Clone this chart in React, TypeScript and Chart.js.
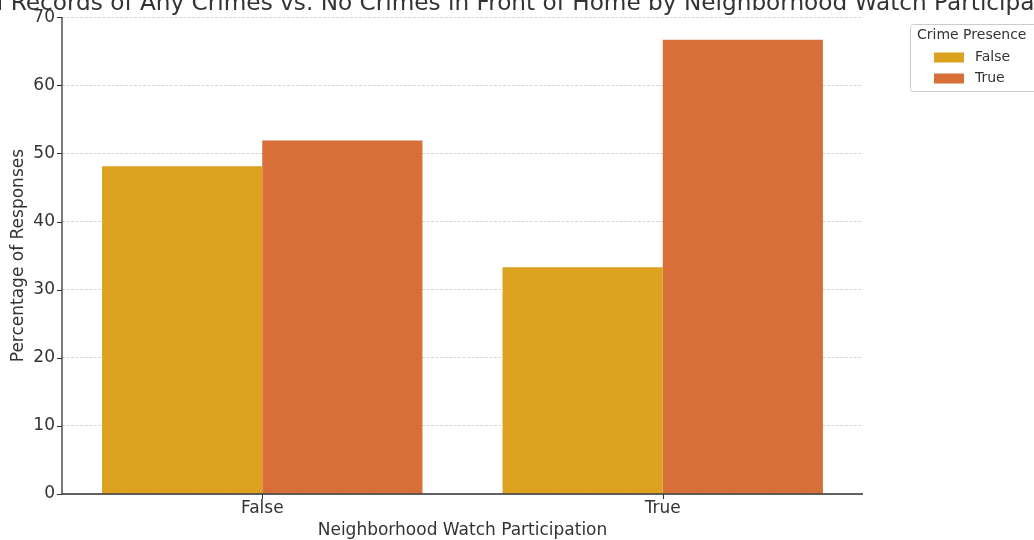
import React, { useEffect, useRef } from "react";
import { Chart, registerables } from "chart.js";

Chart.register(...registerables);

const chartTitle =
  "Prior Criminal Records of Any Crimes vs. No Crimes in Front of Home by Neighborhood Watch Participation";
const categories = ["False", "True"];
const seriesNames = ["False", "True"];
const falseValues = [48.1, 33.3];
const trueValues = [51.9, 66.7];
const yTicks = [0, 10, 20, 30, 40, 50, 60, 70];
const xAxisTitle = "Neighborhood Watch Participation";
const yAxisTitle = "Percentage of Responses";
const legendTitle = "Crime Presence";
const colors = ["#DBA11F", "#D96F38"];

const FONT = "'DejaVu Sans', sans-serif";
const TEXT = "#333333";

const decorPlugin = {
  id: "decor",
  afterDraw(chart: any) {
    const { ctx, chartArea } = chart;
    const { left, right, top, bottom } = chartArea;
    const yScale = chart.scales.y;
    const xScale = chart.scales.x;
    ctx.save();
    // spines
    ctx.strokeStyle = "#333333";
    ctx.lineWidth = 1.3;
    ctx.beginPath();
    ctx.moveTo(left, top);
    ctx.lineTo(left, bottom);
    ctx.lineTo(right, bottom);
    ctx.stroke();
    // tick marks
    ctx.lineWidth = 1;
    yTicks.forEach((v) => {
      const y = Math.round(yScale.getPixelForValue(v)) + 0.5;
      ctx.beginPath();
      ctx.moveTo(left - 5, y);
      ctx.lineTo(left, y);
      ctx.stroke();
    });
    categories.forEach((_, i) => {
      const x = Math.round(xScale.getPixelForValue(i)) + 0.5;
      ctx.beginPath();
      ctx.moveTo(x, bottom);
      ctx.lineTo(x, bottom + 5);
      ctx.stroke();
    });
    // title
    const cx = (left + right) / 2;
    ctx.fillStyle = TEXT;
    ctx.font = `23.2px ${FONT}`;
    ctx.textAlign = "center";
    ctx.textBaseline = "alphabetic";
    ctx.fillText(chartTitle, cx, 10);
    // axis titles
    ctx.font = `17px ${FONT}`;
    ctx.textBaseline = "middle";
    ctx.fillText(xAxisTitle, cx, 530.5);
    ctx.save();
    ctx.translate(18.5, (top + bottom) / 2);
    ctx.rotate(-Math.PI / 2);
    ctx.fillText(yAxisTitle, 0, 0);
    ctx.restore();
    // legend
    const lx = 910.5, ly = 24.5, lw = 140, lh = 67;
    ctx.fillStyle = "rgba(255,255,255,0.85)";
    ctx.strokeStyle = "#cccccc";
    ctx.lineWidth = 1;
    ctx.beginPath();
    ctx.roundRect(lx, ly, lw, lh, 3);
    ctx.fill();
    ctx.stroke();
    ctx.fillStyle = TEXT;
    ctx.font = `14px ${FONT}`;
    ctx.textAlign = "left";
    ctx.fillText(legendTitle, 917, 35.5);
    seriesNames.forEach((name, i) => {
      const yy = 57.5 + i * 21;
      ctx.fillStyle = colors[i];
      ctx.fillRect(934, yy - 5, 30, 10);
      ctx.fillStyle = TEXT;
      ctx.fillText(name, 975, yy);
    });
    ctx.restore();
  },
};

export default function App() {
  const canvasRef = useRef<HTMLCanvasElement | null>(null);
  useEffect(() => {
    document.body.style.margin = "0";
    const canvas = canvasRef.current;
    if (!canvas) return;
    const chart = new Chart(canvas, {
      type: "bar",
      data: {
        labels: categories,
        datasets: [
          { label: seriesNames[0], data: falseValues, backgroundColor: colors[0] },
          { label: seriesNames[1], data: trueValues, backgroundColor: colors[1] },
        ],
      },
      options: {
        animation: false,
        responsive: false,
        maintainAspectRatio: false,
        layout: { padding: { left: 0, right: 171, top: 15, bottom: 0 } },
        datasets: { bar: { categoryPercentage: 0.8, barPercentage: 1.0 } },
        plugins: { legend: { display: false }, title: { display: false }, tooltip: { enabled: false } },
        scales: {
          x: {
            grid: { display: false, drawTicks: false },
            border: { display: false },
            ticks: { color: TEXT, font: { family: FONT, size: 17 }, padding: 4 },
            afterFit: (s: any) => { s.height = 46; },
          },
          y: {
            min: 0,
            max: 70,
            grid: { color: "#cccccc", lineWidth: 0.8, drawTicks: false },
            border: { display: false, dash: [3, 1.5] },
            ticks: { stepSize: 10, color: TEXT, font: { family: FONT, size: 17 }, padding: 7 },
            afterFit: (s: any) => { s.width = 62; },
          },
        },
      },
      plugins: [decorPlugin],
    });
    return () => chart.destroy();
  }, []);
  return <canvas ref={canvasRef} width={1034} height={540} style={{ display: "block" }} />;
}
